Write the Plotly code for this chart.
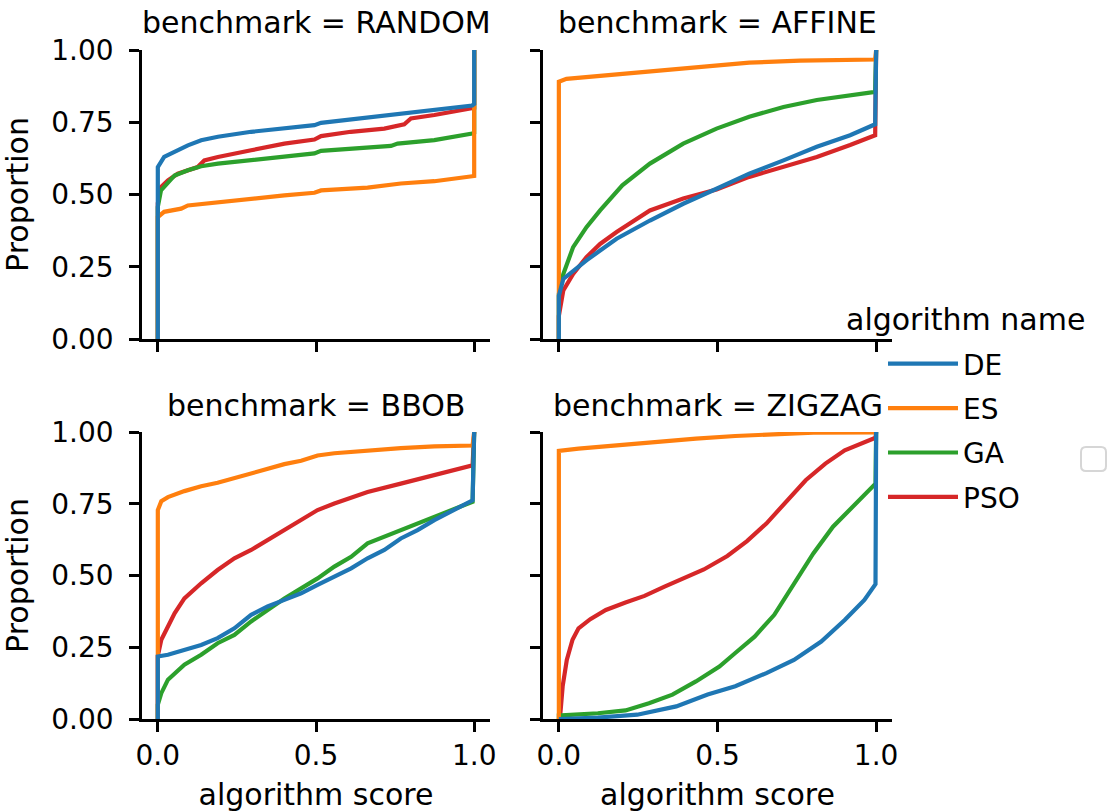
import plotly.graph_objects as go

# ---------------- data ----------------
benchmarks = ["RANDOM", "AFFINE", "BBOB", "ZIGZAG"]
algorithms = ["DE", "ES", "GA", "PSO"]
colors = ["#1f77b4", "#ff7f0e", "#2ca02c", "#d62728"]
x_tick_vals = [0.0, 0.5, 1.0]
x_tick_text = ["0.0", "0.5", "1.0"]
y_tick_vals = [0.0, 0.25, 0.5, 0.75, 1.0]
y_tick_text = ["0.00", "0.25", "0.50", "0.75", "1.00"]

# RANDOM
random_de_score = [0, 0, 0.02, 0.05, 0.095, 0.137, 0.19, 0.295, 0.40, 0.495, 0.516, 0.61, 0.716, 0.82, 0.926, 0.994, 1.0, 1.0]
random_de_prop = [0, 0.595, 0.63, 0.647, 0.67, 0.688, 0.70, 0.717, 0.73, 0.74, 0.748, 0.76, 0.775, 0.788, 0.80, 0.808, 0.813, 1.0]
random_es_score = [0, 0, 0.02, 0.074, 0.095, 0.19, 0.295, 0.40, 0.495, 0.516, 0.663, 0.768, 0.874, 0.994, 1.0, 1.0]
random_es_prop = [0, 0.422, 0.44, 0.451, 0.462, 0.474, 0.486, 0.497, 0.506, 0.514, 0.524, 0.538, 0.546, 0.561, 0.564, 1.0]
random_ga_score = [0, 0, 0.01, 0.032, 0.053, 0.095, 0.137, 0.19, 0.295, 0.40, 0.495, 0.516, 0.663, 0.737, 0.758, 0.874, 0.994, 1.0, 1.0]
random_ga_prop = [0, 0.457, 0.514, 0.543, 0.566, 0.584, 0.598, 0.607, 0.62, 0.632, 0.642, 0.651, 0.661, 0.668, 0.676, 0.688, 0.711, 0.714, 1.0]
random_pso_score = [0, 0, 0.01, 0.032, 0.063, 0.126, 0.147, 0.19, 0.295, 0.40, 0.495, 0.516, 0.61, 0.716, 0.779, 0.80, 0.874, 0.994, 1.0, 1.0]
random_pso_prop = [0, 0.47, 0.526, 0.549, 0.572, 0.595, 0.618, 0.63, 0.653, 0.676, 0.69, 0.702, 0.717, 0.728, 0.743, 0.763, 0.775, 0.798, 0.80, 1.0]

# AFFINE
affine_de_score = [0, 0, 0.014, 0.045, 0.087, 0.13, 0.182, 0.287, 0.392, 0.497, 0.60, 0.708, 0.813, 0.918, 0.997, 1.0]
affine_de_prop = [0, 0.15, 0.208, 0.237, 0.272, 0.306, 0.347, 0.41, 0.468, 0.52, 0.572, 0.618, 0.665, 0.705, 0.743, 1.0]
affine_es_score = [0, 0, 0.024, 0.13, 0.287, 0.445, 0.497, 0.60, 0.76, 0.918, 0.997, 1.0]
affine_es_prop = [0, 0.89, 0.90, 0.91, 0.925, 0.939, 0.947, 0.956, 0.963, 0.966, 0.967, 1.0]
affine_ga_score = [0, 0, 0.014, 0.045, 0.087, 0.13, 0.20, 0.287, 0.392, 0.497, 0.60, 0.708, 0.813, 0.918, 0.997, 1.0]
affine_ga_prop = [0, 0.156, 0.225, 0.318, 0.387, 0.445, 0.532, 0.607, 0.676, 0.728, 0.769, 0.803, 0.827, 0.844, 0.855, 1.0]
affine_pso_score = [0, 0, 0.014, 0.045, 0.087, 0.13, 0.182, 0.287, 0.392, 0.497, 0.60, 0.708, 0.813, 0.918, 0.997, 1.0]
affine_pso_prop = [0, 0.08, 0.168, 0.225, 0.283, 0.329, 0.37, 0.445, 0.486, 0.517, 0.561, 0.595, 0.63, 0.671, 0.705, 1.0]

# BBOB
bbob_de_score = [0, 0, 0.032, 0.084, 0.137, 0.189, 0.242, 0.295, 0.347, 0.40, 0.453, 0.505, 0.558, 0.611, 0.663, 0.716, 0.768, 0.821, 0.874, 0.926, 0.995, 1.0]
bbob_de_prop = [0, 0.218, 0.224, 0.241, 0.258, 0.282, 0.316, 0.363, 0.392, 0.415, 0.438, 0.467, 0.496, 0.525, 0.56, 0.589, 0.629, 0.658, 0.693, 0.722, 0.762, 1.0]
bbob_es_score = [0, 0, 0.011, 0.032, 0.084, 0.137, 0.189, 0.242, 0.295, 0.347, 0.40, 0.453, 0.505, 0.558, 0.663, 0.768, 0.874, 0.995, 1.0]
bbob_es_prop = [0, 0.728, 0.759, 0.773, 0.794, 0.811, 0.823, 0.84, 0.857, 0.872, 0.888, 0.90, 0.918, 0.926, 0.936, 0.944, 0.95, 0.953, 1.0]
bbob_ga_score = [0, 0, 0.011, 0.032, 0.084, 0.137, 0.189, 0.242, 0.295, 0.347, 0.40, 0.453, 0.505, 0.558, 0.611, 0.663, 0.716, 0.768, 0.821, 0.874, 0.926, 0.995, 1.0]
bbob_ga_prop = [0, 0.05, 0.09, 0.137, 0.189, 0.224, 0.264, 0.293, 0.34, 0.38, 0.42, 0.455, 0.49, 0.531, 0.565, 0.612, 0.635, 0.658, 0.681, 0.705, 0.728, 0.757, 1.0]
bbob_pso_score = [0, 0, 0.011, 0.032, 0.053, 0.084, 0.137, 0.189, 0.242, 0.295, 0.347, 0.40, 0.453, 0.505, 0.558, 0.663, 0.768, 0.874, 0.995, 1.0]
bbob_pso_prop = [0, 0.22, 0.276, 0.322, 0.368, 0.42, 0.473, 0.519, 0.56, 0.589, 0.623, 0.658, 0.693, 0.728, 0.751, 0.791, 0.82, 0.849, 0.884, 1.0]

# ZIGZAG
zigzag_de_score = [0, 0.123, 0.247, 0.37, 0.469, 0.556, 0.654, 0.741, 0.827, 0.901, 0.963, 0.998, 1.0]
zigzag_de_prop = [0, 0.005, 0.015, 0.044, 0.085, 0.114, 0.16, 0.206, 0.27, 0.345, 0.415, 0.47, 1.0]
zigzag_es_score = [0, 0, 0.062, 0.185, 0.309, 0.432, 0.556, 0.679, 0.802, 0.998, 1.0]
zigzag_es_prop = [0, 0.934, 0.942, 0.954, 0.965, 0.977, 0.986, 0.993, 0.998, 0.999, 1.0]
zigzag_ga_score = [0, 0, 0.123, 0.21, 0.284, 0.358, 0.432, 0.506, 0.556, 0.617, 0.679, 0.741, 0.802, 0.864, 0.926, 0.998, 1.0]
zigzag_ga_prop = [0, 0.012, 0.02, 0.03, 0.055, 0.085, 0.131, 0.183, 0.23, 0.287, 0.363, 0.473, 0.577, 0.67, 0.739, 0.82, 1.0]
zigzag_pso_score = [0, 0.004, 0.012, 0.025, 0.043, 0.062, 0.099, 0.148, 0.21, 0.27, 0.333, 0.395, 0.457, 0.531, 0.593, 0.654, 0.716, 0.778, 0.84, 0.901, 0.998, 1.0]
zigzag_pso_prop = [0, 0.01, 0.114, 0.206, 0.276, 0.316, 0.348, 0.38, 0.406, 0.429, 0.461, 0.49, 0.521, 0.568, 0.62, 0.681, 0.757, 0.832, 0.89, 0.936, 0.98, 1.0]

curves = {
    "RANDOM": [(random_de_score, random_de_prop), (random_es_score, random_es_prop),
               (random_ga_score, random_ga_prop), (random_pso_score, random_pso_prop)],
    "AFFINE": [(affine_de_score, affine_de_prop), (affine_es_score, affine_es_prop),
               (affine_ga_score, affine_ga_prop), (affine_pso_score, affine_pso_prop)],
    "BBOB": [(bbob_de_score, bbob_de_prop), (bbob_es_score, bbob_es_prop),
             (bbob_ga_score, bbob_ga_prop), (bbob_pso_score, bbob_pso_prop)],
    "ZIGZAG": [(zigzag_de_score, zigzag_de_prop), (zigzag_es_score, zigzag_es_prop),
               (zigzag_ga_score, zigzag_ga_prop), (zigzag_pso_score, zigzag_pso_prop)],
}

# ---------------- layout geometry ----------------
W, H = 1114, 812
FONT = "DejaVu Sans"
x_domains = [[142 / W, 490 / W], [543 / W, 892 / W]]
y_domains = [[1 - 339 / H, 1 - 50 / H], [1 - 719 / H, 1 - 432 / H]]

fig = go.Figure()

for bi, bench in enumerate(benchmarks):
    ax = "" if bi == 0 else str(bi + 1)
    # draw in reverse hue order so DE ends on top (as seaborn does)
    for ai in reversed(range(len(algorithms))):
        xs, ys = curves[bench][ai]
        fig.add_trace(go.Scatter(
            x=xs, y=ys, mode="lines",
            line=dict(color=colors[ai], width=4.2),
            name=algorithms[ai],
            legendgroup=algorithms[ai],
            legendrank=ai + 1,
            showlegend=(bi == 0),
            xaxis="x" + ax, yaxis="y" + ax,
            hoverinfo="skip",
        ))

axis_common = dict(
    showline=True, linecolor="black", linewidth=2.5,
    ticks="outside", ticklen=10, tickwidth=2.5, tickcolor="black",
    showgrid=False, zeroline=False, mirror=False,
    tickfont=dict(family=FONT, size=28, color="black"),
    fixedrange=True, automargin=False,
)
title_font = dict(family=FONT, size=30, color="black")

layout = dict(
    width=W, height=H, autosize=False,
    margin=dict(l=0, r=0, t=0, b=0, autoexpand=False),
    paper_bgcolor="white", plot_bgcolor="white",
    font=dict(family=FONT, size=28, color="black"),
    showlegend=True,
)

for bi in range(4):
    row, col = bi // 2, bi % 2
    ax = "" if bi == 0 else str(bi + 1)
    xa = dict(axis_common, domain=x_domains[col], range=[-0.05, 1.05],
              tickvals=x_tick_vals, ticktext=x_tick_text,
              anchor="y" + ax, showticklabels=(row == 1), ticklabelstandoff=0)
    ya = dict(axis_common, domain=y_domains[row], range=[0, 1],
              tickvals=y_tick_vals, ticktext=y_tick_text,
              anchor="x" + ax, showticklabels=(col == 0), ticklabelstandoff=10)
    if row == 1:
        xa["title"] = dict(text="algorithm score", font=title_font, standoff=25)
    if col == 0:
        ya["title"] = dict(text="Proportion", font=title_font, standoff=14)
    layout["xaxis" + ax] = xa
    layout["yaxis" + ax] = ya

fig.update_layout(**layout)

# facet titles + legend title
annotations = []
for bi, bench in enumerate(benchmarks):
    row, col = bi // 2, bi % 2
    xc = (x_domains[col][0] + x_domains[col][1]) / 2
    yc = [1 - 22 / H, 1 - 405 / H][row]
    annotations.append(dict(
        text="benchmark = " + bench, x=xc, y=yc, xref="paper", yref="paper",
        xanchor="center", yanchor="middle", showarrow=False, font=title_font,
    ))
annotations.append(dict(
    text="algorithm name", x=965 / W, y=1 - 320 / H, xref="paper", yref="paper",
    xanchor="center", yanchor="middle", showarrow=False, font=title_font,
))
fig.update_layout(annotations=annotations)

fig.update_layout(legend=dict(
    font=dict(family=FONT, size=28, color="black"),
    x=883 / W, y=1 - 339 / H, xanchor="left", yanchor="top",
    bgcolor="rgba(0,0,0,0)", borderwidth=0,
    traceorder="grouped", tracegroupgap=5, itemwidth=70,
))

# stray empty legend frame in the reference (light grey rounded square)
x0, x1 = 1081 / W, 1106 / W
y0, y1 = 1 - 471 / H, 1 - 447 / H
rx, ry = 5 / W, 5 / H
path = (f"M{x0 + rx},{y0} L{x1 - rx},{y0} Q{x1},{y0} {x1},{y0 + ry} "
        f"L{x1},{y1 - ry} Q{x1},{y1} {x1 - rx},{y1} L{x0 + rx},{y1} "
        f"Q{x0},{y1} {x0},{y1 - ry} L{x0},{y0 + ry} Q{x0},{y0} {x0 + rx},{y0} Z")
fig.add_shape(type="path", path=path, xref="paper", yref="paper",
              line=dict(color="#d6d6d6", width=2), fillcolor="white", layer="above")

fig.write_html("out.html")
